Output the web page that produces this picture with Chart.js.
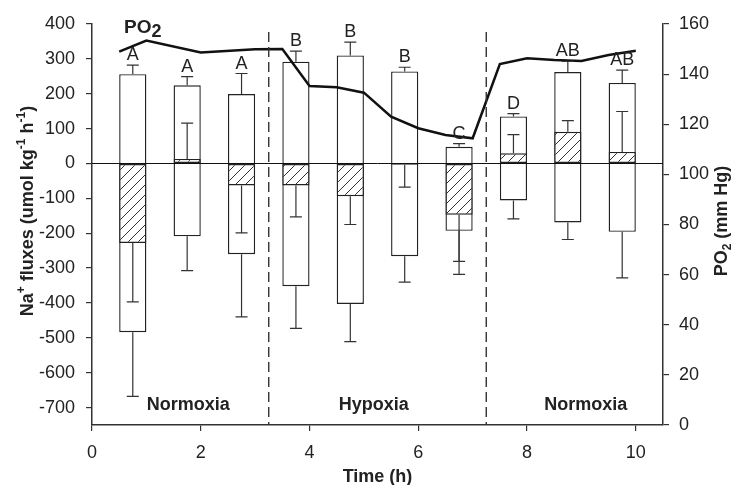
<!DOCTYPE html>
<html><head><meta charset="utf-8">
<script src="https://cdn.jsdelivr.net/npm/chart.js@4.4.1/dist/chart.umd.min.js"></script>
<style>html,body{margin:0;padding:0;background:#fff}#wrap{width:738px;height:485px}</style>
</head><body><div id="wrap"><canvas id="c" width="738" height="485"></canvas></div>
<script>
// ---- data ----
const times = [0.75, 1.75, 2.75, 3.75, 4.75, 5.75, 6.75, 7.75, 8.75, 9.75];
const influx = [256, 224, 199, 292, 310, 264, 48, 135, 262, 231];
const influxErr = [282, 249, 258, 322, 348, 276, 57, 143, 293, 268];
const efflux = [-484, -209, -260, -352, -403, -266, -193, -106, -169, -196];
const effluxErr = [-668, -307, -440, -473, -511, -340, -318, -159, -218, -328];
const net = [-228, 13, -63, -63, -94, -4, -147, 29, 91, 33];
const netErr = [-397, 116, -199, -153, -175, -68, -281, 83, 123, 149];
const letters = ['A', 'A', 'A', 'B', 'B', 'B', 'C', 'D', 'AB', 'AB'];
const po2Time = [0.5, 1, 2, 3, 3.5, 4, 4.5, 5, 5.5, 6, 6.5, 7, 7.5, 8, 8.5, 9, 9.5, 10];
const po2 = [149, 153.4, 148.6, 149.9, 150, 135.3, 134.8, 132.6, 123, 118.4, 115.7, 114.4, 144, 146.3, 145.6, 145.2, 147.6, 149.3];
const phaseNames = ['Normoxia', 'Hypoxia', 'Normoxia'];
const phaseMid = [1.77, 5.18, 9.08];
const phaseBreaks = [3.25, 7.25];
const xTickStep = 2, yTickStep = 100, y2TickStep = 20;

const FONT = '"Liberation Sans", Arial, sans-serif';
const INK = '#222';

function makeHatch() {
  const s = 10;
  const c = document.createElement('canvas'); c.width = s; c.height = s;
  const g = c.getContext('2d');
  g.fillStyle = '#fff'; g.fillRect(0, 0, s, s);
  g.strokeStyle = '#333'; g.lineWidth = 1;
  g.beginPath();
  g.moveTo(0, s); g.lineTo(s, 0);
  g.moveTo(-s / 2, s / 2); g.lineTo(s / 2, -s / 2);
  g.moveTo(s / 2, s * 1.5); g.lineTo(s * 1.5, s / 2);
  g.stroke();
  return g.createPattern(c, 'repeat');
}

const overlay = {
  id: 'overlay',
  afterDatasetsDraw(chart) {
    const ctx = chart.ctx, xs = chart.scales.x, ys = chart.scales.y, a = chart.chartArea;
    ctx.save();
    // zero line
    ctx.strokeStyle = '#111'; ctx.lineWidth = 1;
    const y0 = Math.round(ys.getPixelForValue(0)) + 0.5;
    ctx.beginPath(); ctx.moveTo(a.left, y0); ctx.lineTo(a.right, y0); ctx.stroke();
    // phase dashed lines
    ctx.strokeStyle = '#333'; ctx.lineWidth = 1.4; ctx.setLineDash([10, 5]);
    phaseBreaks.forEach(b => {
      const x = xs.getPixelForValue(b);
      ctx.beginPath(); ctx.moveTo(x, a.top + 8); ctx.lineTo(x, a.bottom); ctx.stroke();
    });
    ctx.setLineDash([]);
    // error bars
    ctx.strokeStyle = '#333'; ctx.lineWidth = 1.2;
    const cap = 6;
    function eb(x, v0, v1) {
      const p0 = ys.getPixelForValue(v0), p1 = ys.getPixelForValue(v1);
      ctx.beginPath(); ctx.moveTo(x, p0); ctx.lineTo(x, p1);
      ctx.moveTo(x - cap, p1); ctx.lineTo(x + cap, p1); ctx.stroke();
    }
    times.forEach((t, i) => {
      const x = xs.getPixelForValue(t);
      eb(x, influx[i], influxErr[i]);
      eb(x, efflux[i], effluxErr[i]);
      eb(x, net[i], netErr[i]);
    });
    // letters
    ctx.fillStyle = INK; ctx.font = '18px ' + FONT; ctx.textAlign = 'center'; ctx.textBaseline = 'alphabetic';
    times.forEach((t, i) => {
      ctx.fillText(letters[i], xs.getPixelForValue(t), ys.getPixelForValue(influxErr[i]) - 5);
    });
    // phase labels
    ctx.font = 'bold 18px ' + FONT; ctx.textBaseline = 'middle';
    phaseNames.forEach((n, i) => ctx.fillText(n, xs.getPixelForValue(phaseMid[i]), a.bottom - 20));
    ctx.restore();
  },
  afterDraw(chart) {
    const ctx = chart.ctx, a = chart.chartArea;
    ctx.save();
    ctx.fillStyle = INK;
    function runs(parts, x, y, rot, align) {
      ctx.save(); ctx.translate(x, y); ctx.rotate(rot);
      let w = 0;
      parts.forEach(p => { ctx.font = 'bold ' + p[1] + 'px ' + FONT; w += ctx.measureText(p[0]).width; });
      let cx = align === 'center' ? -w / 2 : 0;
      ctx.textAlign = 'left'; ctx.textBaseline = 'alphabetic';
      parts.forEach(p => { ctx.font = 'bold ' + p[1] + 'px ' + FONT; ctx.fillText(p[0], cx, p[2]); cx += ctx.measureText(p[0]).width; });
      ctx.restore();
    }
    runs([['Na', 18, 0], ['+', 12, -8], [' fluxes (umol kg', 18, 0], ['-1', 12, -8], [' h', 18, 0], ['-1', 12, -8], [')', 18, 0]],
      33, 211, -Math.PI / 2, 'center');
    runs([['PO', 18, 0], ['2', 12, 4], [' (mm Hg)', 18, 0]], 727, 221, -Math.PI / 2, 'center');
    runs([['Time (h)', 18, 0]], (a.left + a.right) / 2, 482, 0, 'center');
    runs([['PO', 19, 0], ['2', 18, 4]], 124, 33, 0, 'left');
    ctx.restore();
  }
};

const hatch = makeHatch();
const tickFont = { family: FONT, size: 18 };

new Chart(document.getElementById('c'), {
  data: {
    datasets: [
      {
        type: 'line', label: 'PO2', yAxisID: 'y2', xAxisID: 'x', order: 0,
        data: po2Time.map((t, i) => ({ x: t, y: po2[i] })),
        borderColor: '#111', borderWidth: 2.5, pointRadius: 0, tension: 0, fill: false
      },
      {
        type: 'bar', label: 'net', yAxisID: 'y', xAxisID: 'x', order: 1, grouped: false,
        data: times.map((t, i) => ({ x: t, y: [0, net[i]] })),
        backgroundColor: hatch, borderColor: '#222', borderWidth: 1.4, borderSkipped: false,
        barPercentage: 0.5, categoryPercentage: 1
      },
      {
        type: 'bar', label: 'unidirectional', yAxisID: 'y', xAxisID: 'x', order: 2, grouped: false,
        data: times.map((t, i) => ({ x: t, y: [efflux[i], influx[i]] })),
        backgroundColor: '#fff', borderColor: '#222', borderWidth: 1.4, borderSkipped: false,
        barPercentage: 0.5, categoryPercentage: 1
      }
    ]
  },
  options: {
    responsive: false, devicePixelRatio: 1, animation: false,
    layout: { padding: { top: 24, left: 0, right: 0, bottom: 0 } },
    plugins: { legend: { display: false }, tooltip: { enabled: false } },
    scales: {
      x: {
        type: 'linear', position: 'bottom', min: 0, max: 10.5, offset: false,
        ticks: { stepSize: xTickStep, includeBounds: false, font: tickFont, color: INK, padding: 11 },
        grid: { display: true, offset: false, drawOnChartArea: false, drawTicks: true, tickLength: 6, color: '#333', lineWidth: 1.2 },
        border: { display: true, color: '#333', width: 1.5 },
        afterFit: s => { s.height = 60; }
      },
      y: {
        type: 'linear', position: 'left', min: -750, max: 400,
        ticks: { stepSize: yTickStep, includeBounds: false, font: tickFont, color: INK, padding: 11 },
        grid: { display: true, drawOnChartArea: false, drawTicks: true, tickLength: 6, color: '#333', lineWidth: 1.2 },
        border: { display: true, color: '#333', width: 1.5 },
        afterFit: s => { s.width = 92; }
      },
      y2: {
        type: 'linear', position: 'right', min: 0, max: 160,
        ticks: { stepSize: y2TickStep, includeBounds: false, font: tickFont, color: INK, padding: 10 },
        grid: { display: true, drawOnChartArea: false, drawTicks: true, tickLength: 6, color: '#333', lineWidth: 1.2 },
        border: { display: true, color: '#333', width: 1.5 },
        afterFit: s => { s.width = 75; }
      }
    }
  },
  plugins: [overlay]
});
</script></body></html>
